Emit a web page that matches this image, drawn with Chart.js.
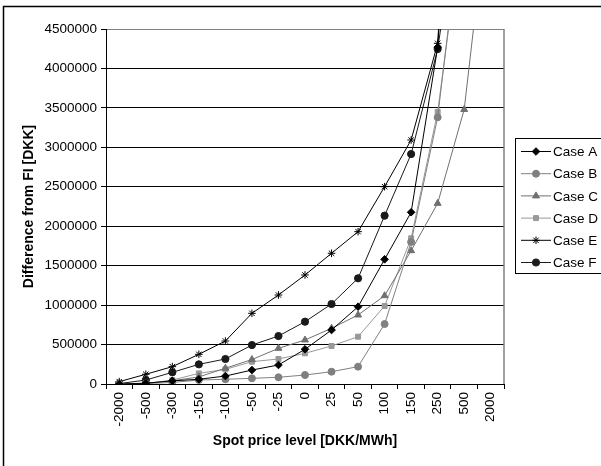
<!DOCTYPE html>
<html>
<head>
<meta charset="utf-8">
<script src="https://cdn.jsdelivr.net/npm/chart.js@4/dist/chart.umd.min.js"></script>
<style>
  html, body { margin: 0; padding: 0; background: #fff; }
  #wrap { position: relative; width: 601px; height: 466px; }
</style>
</head>
<body>
<div id="wrap"><canvas id="chart" width="601" height="466"></canvas></div>
<script>
// spot price levels (categories)
const priceLevels = ['-2000', '-500', '-300', '-150', '-100', '-50', '-25', '0', '25', '50', '100', '150', '250', '500', '2000'];

// difference from FI per case [DKK]
const caseA = [0, 10000, 40000, 60000, 101000, 177000, 241000, 440000, 684000, 980000, 1580000, 2177000, 4270000, 9000000, null];
const caseB = [0, 5000, 20000, 50000, 60000, 72000, 85000, 114000, 156000, 220000, 760000, 1800000, 3380000, 6200000, null];
const caseC = [0, 10000, 40000, 90000, 200000, 310000, 452000, 558000, 706000, 875000, 1119000, 1690000, 2290000, 3480000, 6400000];
const caseD = [0, 5000, 50000, 135000, 186000, 283000, 317000, 389000, 482000, 600000, 989000, 1847000, 3450000, 6000000, null];
const caseE = [30000, 123000, 220000, 376000, 545000, 896000, 1128000, 1382000, 1657000, 1931000, 2501000, 3093000, 4318000, 10000000, null];
const caseF = [5000, 50000, 148000, 249000, 317000, 494000, 608000, 790000, 1014000, 1340000, 2134000, 2915000, 4246000, 6500000, null];

const FONT = '"Liberation Sans", Arial, sans-serif';

const mkSet = (label, data, color, style, radius) => ({
  label, data,
  borderColor: color, backgroundColor: color,
  borderWidth: 1, pointStyle: style, pointRadius: radius,
  pointBorderWidth: 1, pointHoverRadius: radius, tension: 0, spanGaps: false
});

// frame, plot border and legend box drawn on the canvas
const decor = {
  id: 'decor',
  afterDraw(chart) {
    const ctx = chart.ctx;
    const a = chart.chartArea;
    ctx.save();
    // outer frame (only top and left visible)
    ctx.strokeStyle = '#000';
    ctx.lineWidth = 1.5;
    ctx.beginPath();
    ctx.moveTo(3.5, 466); ctx.lineTo(3.5, 6.5); ctx.lineTo(601, 6.5);
    ctx.stroke();
    // plot area right border
    ctx.strokeStyle = '#808080';
    ctx.lineWidth = 1.5;
    ctx.beginPath();
    ctx.moveTo(a.right, a.top); ctx.lineTo(a.right, a.bottom);
    ctx.stroke();
    // legend
    ctx.strokeStyle = '#000';
    ctx.lineWidth = 1;
    ctx.fillStyle = '#fff';
    ctx.fillRect(515.5, 138.5, 90, 135);
    ctx.strokeRect(515.5, 138.5, 90, 135);
    ctx.font = '13.5px ' + FONT;
    ctx.textBaseline = 'middle';
    ctx.textAlign = 'left';
    chart.data.datasets.forEach((ds, i) => {
      const y = 151.5 + i * 22.2;
      ctx.strokeStyle = ds.borderColor;
      ctx.lineWidth = 1;
      ctx.beginPath(); ctx.moveTo(521, y); ctx.lineTo(551, y); ctx.stroke();
      ctx.fillStyle = ds.backgroundColor;
      Chart.helpers.drawPoint(ctx, { pointStyle: ds.pointStyle, radius: ds.pointRadius, borderWidth: 1, rotation: 0 }, 536, y);
      ctx.fillStyle = '#000';
      ctx.fillText(ds.label, 553, y + 1);
    });
    ctx.restore();
  }
};

new Chart(document.getElementById('chart'), {
  type: 'line',
  data: {
    labels: priceLevels,
    datasets: [
      mkSet('Case A', caseA, '#000000', 'rectRot', 3.8),
      mkSet('Case B', caseB, '#808080', 'circle', 3.5),
      mkSet('Case C', caseC, '#707070', 'triangle', 4),
      mkSet('Case D', caseD, '#999999', 'rect', 3.5),
      mkSet('Case E', caseE, '#000000', 'star', 3.8),
      mkSet('Case F', caseF, '#1a1a1a', 'circle', 3.6)
    ]
  },
  options: {
    responsive: false,
    animation: false,
    layout: { padding: { left: 0, top: 29, right: 97, bottom: 0 } },
    plugins: { legend: { display: false }, tooltip: { enabled: false } },
    scales: {
      x: {
        offset: true,
        afterFit: s => { s.height = 82; },
        grid: { offset: true, drawOnChartArea: false, color: '#000', tickLength: 5, tickColor: '#000' },
        border: { color: '#000', width: 1 },
        ticks: { color: '#000', font: { family: FONT, size: 13.5 }, minRotation: 90, maxRotation: 90, autoSkip: false, padding: 3 },
        title: { display: true, text: 'Spot price level [DKK/MWh]', color: '#000', font: { family: FONT, size: 14, weight: 'bold' }, padding: { top: 4, bottom: 16 } }
      },
      y: {
        min: 0, max: 4500000,
        afterFit: s => { s.width = 106; },
        grid: {
          color: c => c.tick && c.tick.value === 4500000 ? '#808080' : '#000',
          lineWidth: 1, tickLength: 5, tickColor: '#000'
        },
        border: { color: '#000', width: 1 },
        ticks: { stepSize: 500000, color: '#000', font: { family: FONT, size: 13.5 }, padding: 4, callback: v => String(v) },
        title: { display: true, text: 'Difference from FI [DKK]', color: '#000', font: { family: FONT, size: 14, weight: 'bold' }, padding: { top: 21, bottom: 4 } }
      }
    }
  },
  plugins: [decor]
});
</script>
</body>
</html>
